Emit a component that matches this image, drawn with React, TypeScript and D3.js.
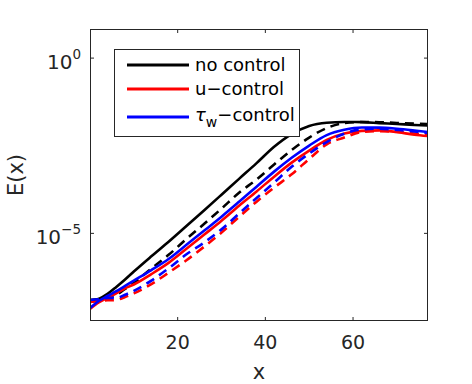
import React from "react";
import * as d3 from "d3";

// streamwise positions
const xs = [0, 2, 4, 6, 8, 10, 14, 18, 22, 26, 30, 34, 38, 42, 46, 50, 54, 58, 62, 66, 70, 74, 77];

// E(x), solid lines
const noCtrl = [1.1e-7, 1.34e-7, 1.87e-7, 2.96e-7, 4.83e-7, 8.17e-7, 2.22e-6, 5.86e-6, 1.62e-5, 4.51e-5, 1.27e-4, 3.59e-4, 1.01e-3, 2.96e-3, 6.81e-3, 1.16e-2, 1.43e-2, 1.5e-2, 1.49e-2, 1.4e-2, 1.32e-2, 1.24e-2, 1.19e-2];
const uCtrl = [6.97e-8, 1.07e-7, 1.44e-7, 1.95e-7, 2.71e-7, 3.48e-7, 6.89e-7, 1.46e-6, 3.62e-6, 9.1e-6, 2.3e-5, 6.14e-5, 1.57e-4, 4.15e-4, 1.04e-3, 2.3e-3, 4.62e-3, 7.03e-3, 8.39e-3, 8.67e-3, 7.76e-3, 6.5e-3, 5.97e-3];
const tauCtrl = [7.43e-8, 1.18e-7, 1.64e-7, 2.24e-7, 3.16e-7, 4.47e-7, 8.95e-7, 1.89e-6, 4.71e-6, 1.18e-5, 2.99e-5, 7.94e-5, 2.15e-4, 5.77e-4, 1.43e-3, 3.2e-3, 6.37e-3, 9.04e-3, 1.05e-2, 1.04e-2, 9.64e-3, 8.57e-3, 7.76e-3];

// E(x), dashed lines
const noCtrlD = [1.26e-7, 1.34e-7, 1.44e-7, 1.75e-7, 2.59e-7, 3.84e-7, 9.95e-7, 2.49e-6, 6.9e-6, 1.85e-5, 5.08e-5, 1.44e-4, 3.45e-4, 9.25e-4, 2.38e-3, 5.41e-3, 1.01e-2, 1.4e-2, 1.5e-2, 1.48e-2, 1.41e-2, 1.36e-2, 1.31e-2];
const uCtrlD = [1.1e-7, 1.18e-7, 1.23e-7, 1.26e-7, 1.53e-7, 1.94e-7, 3.55e-7, 7.66e-7, 1.71e-6, 4.13e-6, 1.05e-5, 2.96e-5, 8.04e-5, 2.02e-4, 4.86e-4, 1.33e-3, 3.48e-3, 5.41e-3, 7.82e-3, 8.28e-3, 7.82e-3, 7.03e-3, 6.37e-3];
const tauCtrlD = [1.26e-7, 1.32e-7, 1.44e-7, 1.44e-7, 1.77e-7, 2.3e-7, 4.5e-7, 1.02e-6, 2.53e-6, 5.44e-6, 1.3e-5, 3.66e-5, 1.02e-4, 2.82e-4, 7.94e-4, 1.89e-3, 4.03e-3, 6.98e-3, 9.33e-3, 9.7e-3, 8.97e-3, 8.13e-3, 7.26e-3];

const xTicks = [20, 40, 60];
const yTicks = [1e-5, 1];
const yTickExp = ["\u22125", "0"];

const W = 472;
const H = 384;
const plot = { left: 90, top: 29, right: 428, bottom: 321 };
const axisColor = "#262626";
const font = "'DejaVu Sans', sans-serif";

const series = [
  { y: noCtrl, color: "#000000", dash: null },
  { y: noCtrlD, color: "#000000", dash: "9,6" },
  { y: uCtrl, color: "#ff0000", dash: null },
  { y: uCtrlD, color: "#ff0000", dash: "9,6" },
  { y: tauCtrl, color: "#0000ff", dash: null },
  { y: tauCtrlD, color: "#0000ff", dash: "9,6" },
];

export default function App() {
  const x = d3.scaleLinear().domain([0, 77.1]).range([plot.left, plot.right]);
  const y = d3
    .scaleLog()
    .domain([Math.pow(10, -7.5), Math.pow(10, 0.83)])
    .range([plot.bottom, plot.top]);

  const line = d3
    .line<number>()
    .x((_, i) => x(xs[i]))
    .y((d) => y(d))
    .curve(d3.curveMonotoneX);

  const tl = 4; // tick length

  return (
    <svg
      width={W}
      height={H}
      style={{ position: "absolute", left: 0, top: 0, background: "#fff" }}
      fontFamily={font}
    >
      <defs>
        <clipPath id="plotArea">
          <rect x={plot.left} y={plot.top} width={plot.right - plot.left} height={plot.bottom - plot.top} />
        </clipPath>
      </defs>
      <rect x={plot.left} y={plot.top} width={plot.right - plot.left} height={plot.bottom - plot.top} fill="#fff" />

      <g clipPath="url(#plotArea)">
        {series.map((s, i) => (
          <path
            key={i}
            d={line(s.y) || ""}
            fill="none"
            stroke={s.color}
            strokeWidth={2.6}
            strokeDasharray={s.dash || undefined}
          />
        ))}
      </g>

      {/* axes box */}
      <rect
        x={plot.left + 0.5}
        y={plot.top + 0.5}
        width={plot.right - plot.left - 1}
        height={plot.bottom - plot.top - 1}
        fill="none"
        stroke={axisColor}
        strokeWidth={1}
      />

      {xTicks.map((t) => (
        <g key={t}>
          <line x1={x(t)} x2={x(t)} y1={plot.bottom} y2={plot.bottom - tl} stroke={axisColor} />
          <line x1={x(t)} x2={x(t)} y1={plot.top} y2={plot.top + tl} stroke={axisColor} />
          <text x={x(t)} y={349} textAnchor="middle" fontSize={19} fill={axisColor}>
            {t}
          </text>
        </g>
      ))}

      {yTicks.map((t, i) => (
        <g key={t}>
          <line x1={plot.left} x2={plot.left + tl} y1={y(t)} y2={y(t)} stroke={axisColor} />
          <line x1={plot.right} x2={plot.right - tl} y1={y(t)} y2={y(t)} stroke={axisColor} />
          <text x={81} y={y(t) + 11} textAnchor="end" fontSize={20} fill={axisColor}>
            10
            <tspan dy={-10} fontSize={13.5}>
              {yTickExp[i]}
            </tspan>
          </text>
        </g>
      ))}

      <text x={(plot.left + plot.right) / 2} y={379} textAnchor="middle" fontSize={21} fill={axisColor}>
        x
      </text>
      <text
        transform={`translate(23,${(plot.top + plot.bottom) / 2}) rotate(-90)`}
        textAnchor="middle"
        fontSize={21}
        fill={axisColor}
      >
        E(x)
      </text>

      {/* legend */}
      <rect x={114.5} y={49.5} width={185} height={87} fill="#fff" stroke={axisColor} strokeWidth={1} />
      {[
        { color: "#000000", ly: 65 },
        { color: "#ff0000", ly: 89 },
        { color: "#0000ff", ly: 117 },
      ].map((d, i) => (
        <line key={i} x1={127} x2={189} y1={d.ly} y2={d.ly} stroke={d.color} strokeWidth={2.8} />
      ))}
      <text x={195} y={71} fontSize={18} fill="#000">
        no control
      </text>
      <text x={195} y={95} fontSize={18} fill="#000">
        u{"\u2212"}control
      </text>
      <text x={195} y={121} fontSize={18} fill="#000">
        <tspan fontStyle="italic">{"\u03c4"}</tspan>
        <tspan dy={6} fontSize={14}>
          w
        </tspan>
        <tspan dy={-6}>{"\u2212"}control</tspan>
      </text>
    </svg>
  );
}
